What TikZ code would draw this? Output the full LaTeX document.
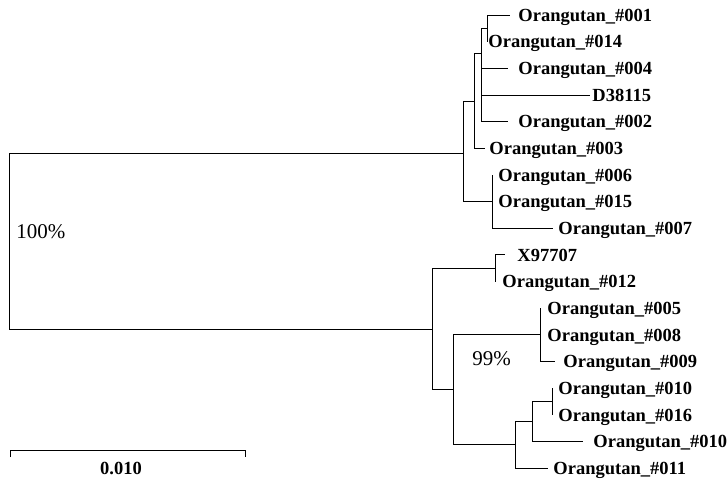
\documentclass[tikz,border=0pt]{standalone}
\usepackage{fontspec}
\setmainfont{Liberation Serif}
\usetikzlibrary{positioning}
\begin{document}
\begin{tikzpicture}[x=1pt, y=-1pt, line width=0.9pt,
  lab/.style = {font=\bfseries\fontsize{18.5}{20}\selectfont, inner sep=0pt, text height=12.5pt, text depth=0pt},
  pct/.style = {font=\fontsize{21}{24}\selectfont, inner sep=0pt}]
\useasboundingbox (0,0) rectangle (727,481);
% inner nodes
\coordinate (r) at (9,241);
\coordinate (T) at (463,153);
\coordinate (A) at (474,101);
\coordinate (B) at (481,53);
\coordinate (C) at (487,28.3);
\coordinate (D) at (492,201.6);
\coordinate (P) at (432,329);
\coordinate (Q) at (495,268.2);
\coordinate (E) at (453,389.8);
\coordinate (F) at (540,334.8);
\coordinate (G) at (515,444.7);
\coordinate (H) at (532,421.4);
\coordinate (I) at (552,401.5);
% leaf ends
\coordinate (e1) at (510,15);
\coordinate (e2) at (487,41.6);
\coordinate (e3) at (508,68.3);
\coordinate (e4) at (590,95);
\coordinate (e5) at (508,121.6);
\coordinate (e6) at (485,148.3);
\coordinate (e7) at (492,175);
\coordinate (e8) at (492,201.6);
\coordinate (e9) at (553,228.2);
\coordinate (e10) at (505,254.9);
\coordinate (e11) at (495,281.5);
\coordinate (e12) at (540,308.2);
\coordinate (e13) at (540,334.8);
\coordinate (e14) at (555,361.5);
\coordinate (e15) at (552,388.1);
\coordinate (e16) at (552,414.8);
\coordinate (e17) at (583,441.4);
\coordinate (e18) at (548,468);
% labels
\node[lab, right=8pt of e1] (t1) {Orangutan\_\#001};
\node[lab, right=1pt of e2] (t2) {Orangutan\_\#014};
\node[lab, right=10pt of e3] (t3) {Orangutan\_\#004};
\node[lab, right=2pt of e4] (t4) {D38115};
\node[lab, right=10pt of e5] (t5) {Orangutan\_\#002};
\node[lab, right=4pt of e6] (t6) {Orangutan\_\#003};
\node[lab, right=6pt of e7] (t7) {Orangutan\_\#006};
\node[lab, right=6pt of e8] (t8) {Orangutan\_\#015};
\node[lab, right=5pt of e9] (t9) {Orangutan\_\#007};
\node[lab, right=12pt of e10] (t10) {X97707};
\node[lab, right=7pt of e11] (t11) {Orangutan\_\#012};
\node[lab, right=7pt of e12] (t12) {Orangutan\_\#005};
\node[lab, right=7pt of e13] (t13) {Orangutan\_\#008};
\node[lab, right=8pt of e14] (t14) {Orangutan\_\#009};
\node[lab, right=6pt of e15] (t15) {Orangutan\_\#010};
\node[lab, right=6pt of e16] (t16) {Orangutan\_\#016};
\node[lab, right=10pt of e17] (t17) {Orangutan\_\#010};
\node[lab, right=5pt of e18] (t18) {Orangutan\_\#011};
% branches
\draw (r) |- (T);
\draw (r) |- (P);
\draw (T) |- (A);
\draw (T) |- (D);
\draw (A) |- (B);
\draw (A) |- (e6);
\draw (B) |- (C);
\draw (B) |- (e3);
\draw (B) |- (e4);
\draw (B) |- (e5);
\draw (C) |- (e1);
\draw (C) |- (e2);
\draw (D) |- (e7);
\draw (D) |- (e8);
\draw (D) |- (e9);
\draw (P) |- (Q);
\draw (P) |- (E);
\draw (Q) |- (e10);
\draw (Q) |- (e11);
\draw (E) |- (F);
\draw (E) |- (G);
\draw (F) |- (e12);
\draw (F) |- (e13);
\draw (F) |- (e14);
\draw (G) |- (H);
\draw (G) |- (e18);
\draw (H) |- (I);
\draw (H) |- (e17);
\draw (I) |- (e15);
\draw (I) |- (e16);
% bootstrap values
\node[pct, anchor=base west] (b100) at (16,238) {100\%};
\node[pct, anchor=base west] (b99) at (472,365) {99\%};
% scale bar
\draw (10,457) -- (10,450) -- (245,450) -- (245,457);
\node[lab, anchor=base] (sc) at (121,474) {0.010};
\end{tikzpicture}
\end{document}
